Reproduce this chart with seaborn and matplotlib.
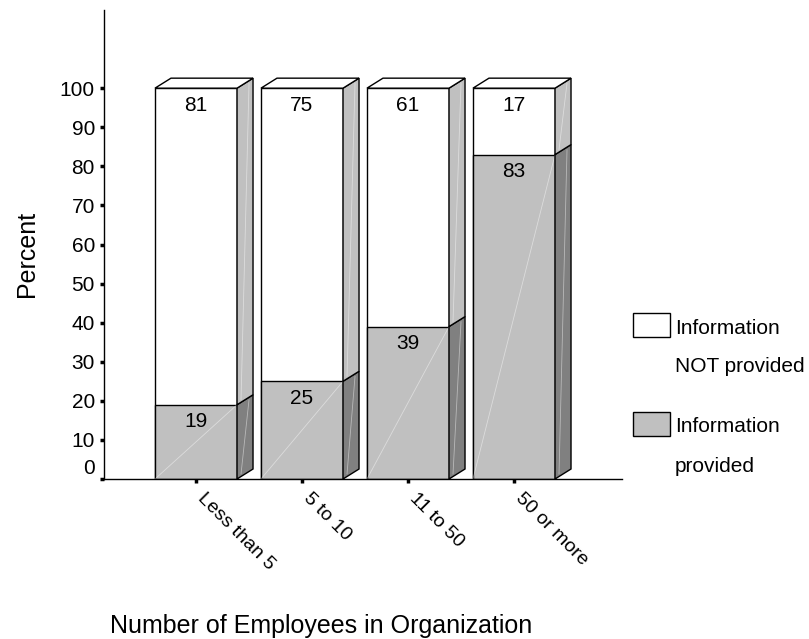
import matplotlib
matplotlib.use("Agg")
import matplotlib.pyplot as plt
import matplotlib.transforms as mtransforms
from matplotlib.patches import Polygon, Rectangle
import seaborn as sns
import pandas as pd

# Survey results: share of organisations that provided the information
categories = ["Less than 5", "5 to 10", "11 to 50", "50 or more"]
provided = [19, 25, 39, 83]
not_provided = [81, 75, 61, 17]
yticks = [0, 10, 20, 30, 40, 50, 60, 70, 80, 90, 100]
legend_labels = [("Information", "NOT provided"), ("Information", "provided")]

sns.set_theme(style="white")
plt.rcParams["font.family"] = ["Liberation Sans", "DejaVu Sans"]
for key in ["text.color", "axes.labelcolor", "xtick.color", "ytick.color"]:
    plt.rcParams[key] = "black"

FS = 15

W, H = 809, 639
fig = plt.figure(figsize=(W / 100, H / 100), dpi=100)
ax = fig.add_axes([104 / W, 160 / H, (622 - 104) / W, 469 / H])

df = pd.DataFrame({"group": categories,
                   "provided": provided,
                   "total": [a + b for a, b in zip(provided, not_provided)]})

FRONT_GREY = "#C0C0C0"
SIDE_DARK = "#808080"
SIDE_LIGHT = "#C0C0C0"
BAR_W = 0.774

sns.barplot(data=df, x="group", y="total", color="white", saturation=1,
            edgecolor="black", linewidth=1.0, width=BAR_W, ax=ax, zorder=2)
n_total = len(ax.patches)
sns.barplot(data=df, x="group", y="provided", color=FRONT_GREY, saturation=1,
            edgecolor="black", linewidth=1.0, width=BAR_W, ax=ax, zorder=3)

ax.set_xlim(-0.868, 4.019)
ax.set_ylim(0, 120)

# depth of the 3-D extrusion, in pixels converted to data units
ax_w_px = 622 - 104
ax_h_px = 469
xr = ax.get_xlim()[1] - ax.get_xlim()[0]
yr = ax.get_ylim()[1] - ax.get_ylim()[0]
dx = 16 * xr / ax_w_px
dy = 10 * yr / ax_h_px

tot_patches = ax.patches[:n_total]
prov_patches = ax.patches[n_total:]

for pt, pp in zip(tot_patches, prov_patches):
    x0 = pt.get_x()
    x1 = x0 + pt.get_width()
    top = pt.get_height()
    mid = pp.get_height()
    # side faces
    for (y0, y1, col) in [(0, mid, SIDE_DARK), (mid, top, SIDE_LIGHT)]:
        ax.add_patch(Polygon([(x1, y0), (x1 + dx, y0 + dy), (x1 + dx, y1 + dy), (x1, y1)],
                             closed=True, facecolor=col, edgecolor="black",
                             linewidth=1.0, zorder=4))
        # faint highlight streak on the side
        ax.plot([x1 + dx * 0.25, x1 + dx * 0.75], [y0 + dy * 0.5, y1 + dy * 0.5],
                color="white", lw=0.6, alpha=0.45, zorder=4.5)
    # faint diagonal streak on the grey front face
    ax.plot([x0, x1], [0, mid], color="white", lw=0.6, alpha=0.45, zorder=3.5)
    # top face
    ax.add_patch(Polygon([(x0, top), (x0 + dx, top + dy), (x1 + dx, top + dy), (x1, top)],
                         closed=True, facecolor="white", edgecolor="black",
                         linewidth=1.0, zorder=4))

# value labels
label_off = mtransforms.offset_copy(ax.transData, fig=fig, x=0, y=-17, units="dots")
for pt, pp, a, b in zip(tot_patches, prov_patches, provided, not_provided):
    cx = pt.get_x() + pt.get_width() / 2
    ax.text(cx, a + b, f"{b}", ha="center", va="center", fontsize=FS,
            transform=label_off, zorder=6)
    ax.text(cx, a, f"{a}", ha="center", va="center", fontsize=FS,
            transform=label_off, zorder=6)

# axes styling
for s in ["top", "right"]:
    ax.spines[s].set_visible(False)
for s in ["left", "bottom"]:
    ax.spines[s].set_color("black")
    ax.spines[s].set_linewidth(1.0)
    ax.spines[s].set_zorder(5)

ax.set_yticks(yticks)
ax.set_yticklabels([str(t) for t in yticks])
ax.tick_params(axis="y", direction="out", length=3, width=2.5,
               labelsize=FS, pad=3.5, left=True)
ax.tick_params(axis="x", direction="out", length=3, width=2.5,
               labelsize=14, pad=5, bottom=True)
ax.set_xticks(range(len(categories)))
ax.set_xticklabels(categories, rotation=-45, ha="left", va="top",
                   rotation_mode="anchor")
for lab in ax.get_xticklabels():
    lab.set_transform(lab.get_transform() + mtransforms.ScaledTranslation(10 / 100, 0, fig.dpi_scale_trans))
# nudge the zero label up off the x-axis
zero_lab = ax.get_yticklabels()[0]
zero_lab.set_transform(zero_lab.get_transform() + mtransforms.ScaledTranslation(0, 13 / 100, fig.dpi_scale_trans))

ax.set_xlabel("")
ax.set_ylabel("")
fig.text(27 / W, 1 - 254 / H, "Percent", rotation=90, ha="center", va="center", fontsize=18)
fig.text(321 / W, 1 - 633 / H, "Number of Employees in Organization",
         ha="center", va="baseline", fontsize=18)

# legend
def fx(px):
    return px / W

def fy(py):
    return 1 - py / H

legend_items = [(313, 328, 366, "white"), (412, 426, 466, FRONT_GREY)]
for (ytop, yl1, yl2, col), (l1, l2) in zip(legend_items, legend_labels):
    fig.add_artist(Rectangle((fx(633), fy(ytop + 24)), 37 / W, 24 / H,
                             facecolor=col, edgecolor="black", linewidth=1.0,
                             transform=fig.transFigure))
    fig.text(fx(675), fy(yl1), l1, ha="left", va="center", fontsize=FS)
    fig.text(fx(675), fy(yl2), l2, ha="left", va="center", fontsize=FS)

fig.savefig("out.png", dpi=100, facecolor="white")
